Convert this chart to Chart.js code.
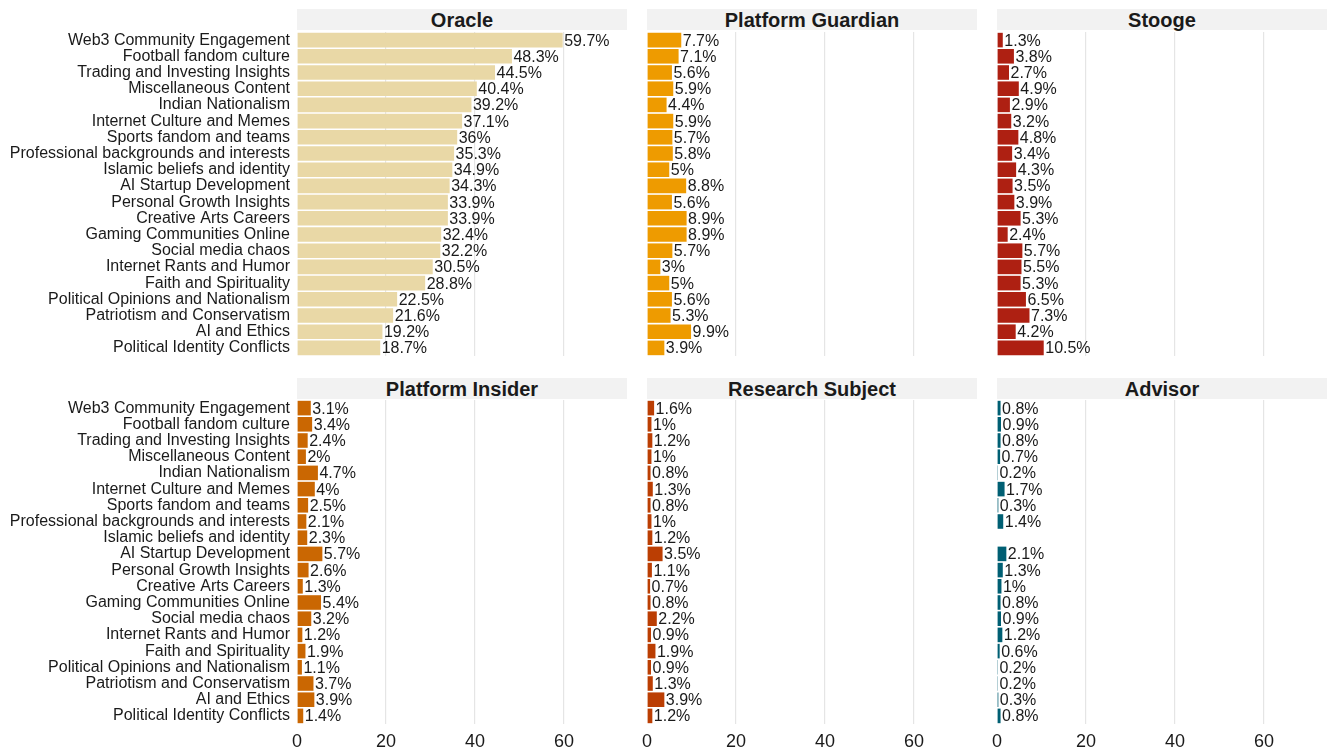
<!DOCTYPE html>
<html>
<head>
<meta charset="utf-8">
<script src="https://cdn.jsdelivr.net/npm/chart.js@4.4.1/dist/chart.umd.min.js"></script>
<style>
  body { margin: 0; background: #ffffff; }
  #page { position: relative; width: 1327px; height: 751px; overflow: hidden; background: #ffffff; }
  .strip {
    position: absolute; height: 21px; background: #f2f2f2; color: #1a1a1a;
    font: bold 20px "Liberation Sans", Arial, sans-serif; text-align: center; line-height: 22px;
  }
  canvas { position: absolute; }
</style>
</head>
<body>
<div id="page"></div>
<script>
var categories = [
    "Web3 Community Engagement",
    "Football fandom culture",
    "Trading and Investing Insights",
    "Miscellaneous Content",
    "Indian Nationalism",
    "Internet Culture and Memes",
    "Sports fandom and teams",
    "Professional backgrounds and interests",
    "Islamic beliefs and identity",
    "AI Startup Development",
    "Personal Growth Insights",
    "Creative Arts Careers",
    "Gaming Communities Online",
    "Social media chaos",
    "Internet Rants and Humor",
    "Faith and Spirituality",
    "Political Opinions and Nationalism",
    "Patriotism and Conservatism",
    "AI and Ethics",
    "Political Identity Conflicts"
];

var oracle = [59.7, 48.3, 44.5, 40.4, 39.2, 37.1, 36, 35.3, 34.9, 34.3, 33.9, 33.9, 32.4, 32.2, 30.5, 28.8, 22.5, 21.6, 19.2, 18.7];
var platformGuardian = [7.7, 7.1, 5.6, 5.9, 4.4, 5.9, 5.7, 5.8, 5, 8.8, 5.6, 8.9, 8.9, 5.7, 3, 5, 5.6, 5.3, 9.9, 3.9];
var stooge = [1.3, 3.8, 2.7, 4.9, 2.9, 3.2, 4.8, 3.4, 4.3, 3.5, 3.9, 5.3, 2.4, 5.7, 5.5, 5.3, 6.5, 7.3, 4.2, 10.5];
var platformInsider = [3.1, 3.4, 2.4, 2, 4.7, 4, 2.5, 2.1, 2.3, 5.7, 2.6, 1.3, 5.4, 3.2, 1.2, 1.9, 1.1, 3.7, 3.9, 1.4];
var researchSubject = [1.6, 1, 1.2, 1, 0.8, 1.3, 0.8, 1, 1.2, 3.5, 1.1, 0.7, 0.8, 2.2, 0.9, 1.9, 0.9, 1.3, 3.9, 1.2];
var advisor = [0.8, 0.9, 0.8, 0.7, 0.2, 1.7, 0.3, 1.4, null, 2.1, 1.3, 1, 0.8, 0.9, 1.2, 0.6, 0.2, 0.2, 0.3, 0.8];

var xTicks = [0, 20, 40, 60];
var xMax = 74.6;

var panels = [
    { title: "Oracle", data: oracle, color: "#E9D8A6", col: 0, row: 0 },
    { title: "Platform Guardian", data: platformGuardian, color: "#EE9B00", col: 1, row: 0 },
    { title: "Stooge", data: stooge, color: "#AE2012", col: 2, row: 0 },
    { title: "Platform Insider", data: platformInsider, color: "#CA6702", col: 0, row: 1 },
    { title: "Research Subject", data: researchSubject, color: "#BB3E03", col: 1, row: 1 },
    { title: "Advisor", data: advisor, color: "#005F73", col: 2, row: 1 }
];

// panel geometry
var colLeft = [297, 647, 997];
var panelW = 330;
var rowTop = [31.5, 400];
var panelH = 324;
var stripTop = [9, 378];
var FONT = '"Liberation Sans", Arial, sans-serif';

Chart.defaults.font.family = FONT;
Chart.defaults.color = "#1a1a1a";

// value labels at end of each bar
var valueLabels = {
    id: "valueLabels",
    afterDatasetsDraw: function (chart) {
        var ctx = chart.ctx;
        var meta = chart.getDatasetMeta(0);
        var values = chart.data.datasets[0].data;
        ctx.save();
        ctx.font = "16px " + FONT;
        ctx.fillStyle = "#1a1a1a";
        ctx.textAlign = "left";
        ctx.textBaseline = "middle";
        meta.data.forEach(function (bar, i) {
            if (values[i] === null) return;
            ctx.fillText(values[i] + "%", bar.x + 1.5, bar.y + 1);
        });
        ctx.restore();
    }
};

var page = document.getElementById("page");

function makePanel(p) {
    var left = p.col === 0 ? 0 : colLeft[p.col] - 10;
    var yW = colLeft[p.col] - left;
    var xH = p.row === 1 ? 30 : 2;

    var strip = document.createElement("div");
    strip.className = "strip";
    strip.style.left = colLeft[p.col] + "px";
    strip.style.top = stripTop[p.row] + "px";
    strip.style.width = panelW + "px";
    strip.textContent = p.title;
    page.appendChild(strip);

    var canvas = document.createElement("canvas");
    canvas.width = yW + panelW + 2;
    canvas.height = panelH + xH;
    canvas.style.left = left + "px";
    canvas.style.top = rowTop[p.row] + "px";
    page.appendChild(canvas);

    return new Chart(canvas.getContext("2d"), {
        type: "bar",
        data: {
            labels: categories,
            datasets: [{
                data: p.data,
                backgroundColor: p.color,
                borderWidth: 0,
                barPercentage: 0.9,
                categoryPercentage: 1
            }]
        },
        options: {
            indexAxis: "y",
            responsive: false,
            animation: false,
            layout: { padding: 0 },
            plugins: { legend: { display: false }, tooltip: { enabled: false } },
            scales: {
                x: {
                    min: 0,
                    max: xMax,
                    afterBuildTicks: function (scale) {
                        scale.ticks = xTicks.map(function (v) { return { value: v }; });
                    },
                    afterFit: function (scale) {
                        scale.height = xH;
                        scale.paddingLeft = 0;
                        scale.paddingRight = 0;
                    },
                    border: { display: false },
                    grid: {
                        drawTicks: false,
                        lineWidth: 1.2,
                        color: function (c) { return c.tick && c.tick.value === 0 ? "rgba(0,0,0,0)" : "#e5e5e5"; }
                    },
                    ticks: {
                        display: p.row === 1,
                        padding: 7,
                        font: { size: 18 },
                        color: "#1a1a1a"
                    }
                },
                y: {
                    afterFit: function (scale) {
                        scale.width = yW;
                        scale.paddingTop = 0;
                        scale.paddingBottom = 0;
                    },
                    border: { display: false },
                    grid: { display: false, drawTicks: false },
                    ticks: {
                        display: p.col === 0,
                        padding: 7,
                        autoSkip: false,
                        font: { size: 16 },
                        color: "#1a1a1a"
                    }
                }
            }
        },
        plugins: [valueLabels]
    });
}

panels.forEach(makePanel);
</script>
</body>
</html>
